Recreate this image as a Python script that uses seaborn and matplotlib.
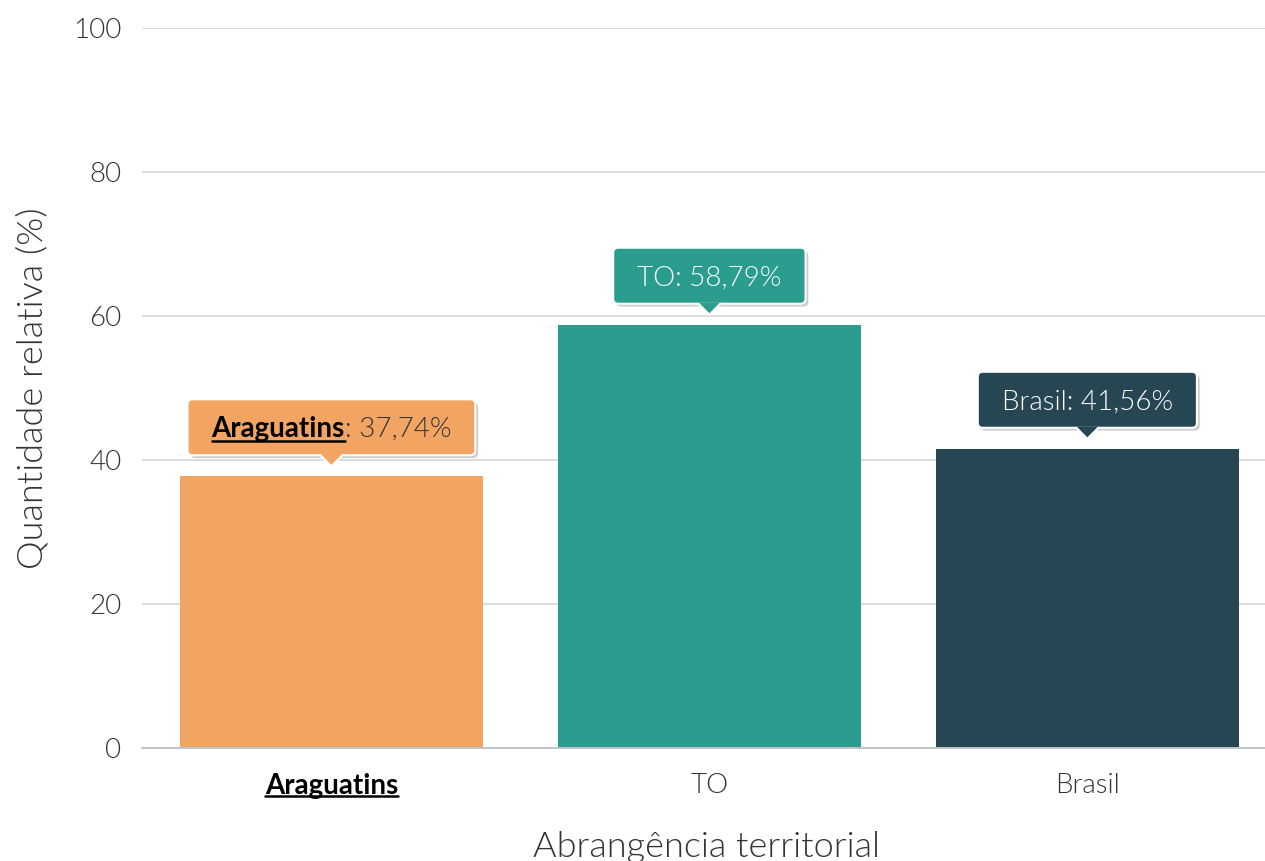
import matplotlib
matplotlib.use("Agg")
import matplotlib.pyplot as plt
import matplotlib.patheffects as pe
from matplotlib.patches import FancyBboxPatch, Polygon
from matplotlib.lines import Line2D
from matplotlib.transforms import IdentityTransform
import seaborn as sns

# dados
regioes = ['Araguatins', 'TO', 'Brasil']
valores = [37.74, 58.79, 41.56]
cores = ['#f2a462', '#2a9d8f', '#264653']
cores_texto = ['#333333', '#ffffff', '#ffffff']
yticks = [0, 20, 40, 60, 80, 100]

sns.set_style('white')
plt.rcParams['font.family'] = ['Lato', 'DejaVu Sans']
LEVE = 300

fig = plt.figure(figsize=(12.65, 8.61), dpi=100)
ax = fig.add_axes([0.1123, 0.1312, 0.8877, 0.8363])

sns.barplot(x=regioes, y=valores, hue=regioes, palette=cores, width=0.8,
            legend=False, saturation=1, linewidth=0, ax=ax)

ax.set_ylim(0, 100)
ax.set_xlim(-0.501, 2.47)
ax.set_yticks(yticks)
ax.yaxis.grid(True, color='#dcdcdc', lw=1.4)
ax.set_axisbelow(True)
for s in ['top', 'right', 'left']:
    ax.spines[s].set_visible(False)
ax.spines['bottom'].set_color('#c0c4cc')
ax.spines['bottom'].set_linewidth(1.4)
ax.tick_params(axis='both', length=0, labelsize=20, labelcolor='#333333')
ax.tick_params(axis='y', pad=15)
ax.tick_params(axis='x', pad=18)
for t in ax.get_yticklabels() + ax.get_xticklabels():
    t.set_fontweight(LEVE)
xl = ax.get_xticklabels()[0]
xl.set_fontweight('bold')
xl.set_color('black')

ax.set_xlabel('Abrangência territorial', fontsize=26, fontweight=LEVE, color='#333333')
ax.set_ylabel('Quantidade relativa (%)', fontsize=26, fontweight=LEVE, color='#333333')
ax.xaxis.set_label_coords(0.503, -0.115)
ax.yaxis.set_label_coords(-0.083, 0.5)

fig.canvas.draw()
renderer = fig.canvas.get_renderer()
ident = IdentityTransform()

# sublinhado no rótulo do eixo x
bb = xl.get_window_extent(renderer)
fig.add_artist(Line2D([bb.x0, bb.x1], [bb.y0 + 3, bb.y0 + 3], transform=ident,
                      color='black', lw=1.8))

# tooltips
fs = 20
fs_px = fs * 100 / 72
sombra = [pe.SimplePatchShadow(offset=(2, -2), shadow_rgbFace='black', alpha=0.2), pe.Normal()]
for i, (reg, val) in enumerate(zip(regioes, valores)):
    cx, cy = ax.transData.transform((i, val))
    tip = cy + 10
    base = tip + 11
    top = base + 56
    centro = (base + top) / 2
    baseline = centro - 0.34 * fs_px
    rotulo = f"{val:.2f}".replace('.', ',') + '%'
    if i == 0:
        t1 = fig.text(0, baseline, reg, transform=ident, fontsize=fs, fontweight='bold',
                      color='black', va='baseline', ha='left', zorder=12)
        t2 = fig.text(0, baseline, ': ' + rotulo, transform=ident, fontsize=fs,
                      fontweight=LEVE, color=cores_texto[i], va='baseline', ha='left', zorder=12)
        w1 = t1.get_window_extent(renderer).width
        w2 = t2.get_window_extent(renderer).width
        x0 = cx - (w1 + w2) / 2
        t1.set_x(x0)
        t2.set_x(x0 + w1)
        fig.add_artist(Line2D([x0, x0 + w1], [baseline - 4, baseline - 4], transform=ident,
                              color='black', lw=1.8, zorder=12))
        w = w1 + w2
    else:
        t = fig.text(cx, baseline, reg + ': ' + rotulo, transform=ident, fontsize=fs,
                     fontweight=LEVE, color=cores_texto[i], va='baseline', ha='center', zorder=12)
        w = t.get_window_extent(renderer).width
    pad = 24
    caixa = FancyBboxPatch((cx - w / 2 - pad, base), w + 2 * pad, top - base,
                           boxstyle='round,pad=0,rounding_size=5', transform=ident,
                           facecolor=cores[i], edgecolor='white', lw=1.5, zorder=10,
                           path_effects=sombra)
    fig.add_artist(caixa)
    tri = Polygon([(cx - 11, base + 1.2), (cx, tip), (cx + 11, base + 1.2)], closed=True,
                  transform=ident, facecolor=cores[i], edgecolor='none', zorder=11)
    fig.add_artist(tri)
    fig.add_artist(Line2D([cx - 11, cx, cx + 11], [base, tip, base], transform=ident,
                          color='white', lw=1.5, zorder=11))

fig.savefig('out.png', dpi=100)
